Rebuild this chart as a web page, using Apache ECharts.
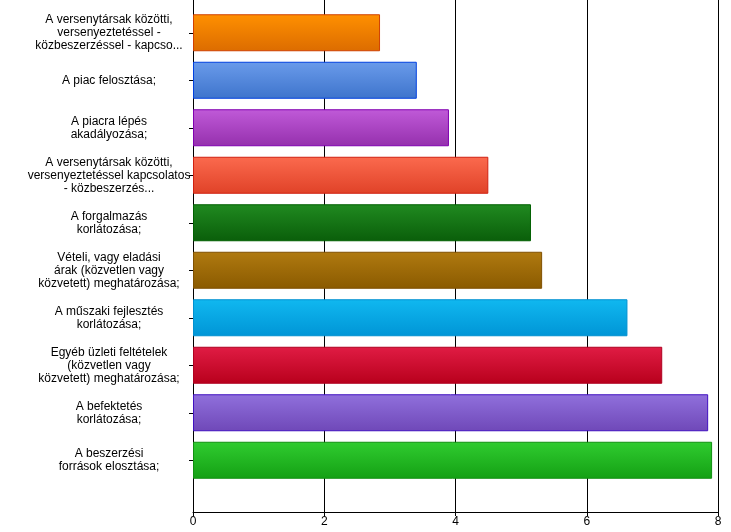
<!DOCTYPE html>
<html><head><meta charset="utf-8">
<script src="https://cdn.jsdelivr.net/npm/echarts@6/dist/echarts.min.js"></script>
<style>html,body{margin:0;padding:0;background:#fff}#c{width:731px;height:532px}</style>
</head><body><div id="c"></div>
<script>
var categories = [
    'A versenytársak közötti,\nversenyeztetéssel -\nközbeszerzéssel - kapcso...',
    'A piac felosztása;',
    'A piacra lépés\nakadályozása;',
    'A versenytársak közötti,\nversenyeztetéssel kapcsolatos\n- közbeszerzés...',
    'A forgalmazás\nkorlátozása;',
    'Vételi, vagy eladási\nárak (közvetlen vagy\nközvetett) meghatározása;',
    'A műszaki fejlesztés\nkorlátozása;',
    'Egyéb üzleti feltételek\n(közvetlen vagy\nközvetett) meghatározása;',
    'A befektetés\nkorlátozása;',
    'A beszerzési\nforrások elosztása;'
];
var values = [2.85, 3.41, 3.9, 4.5, 5.15, 5.32, 6.62, 7.15, 7.85, 7.91];
var topColors = ['#ff9000', '#6a9bea', '#c05ad8', '#fb6a4e', '#208a20', '#b07a10', '#10b8f0', '#e01c44', '#9070dc', '#30cc30'];
var bottomColors = ['#dc6c00', '#3e74cc', '#9530ad', '#e04228', '#0a5e0a', '#8a5a00', '#0095d6', '#b8001c', '#6f48b8', '#14a014'];
var borderColors = ['#d04000', '#0040e0', '#8000b0', '#d02010', '#006000', '#805000', '#0090d0', '#b00020', '#4010c0', '#109010'];

var chart = echarts.init(document.getElementById('c'));
chart.setOption({
    animation: false,
    grid: [
        { left: 193, right: 13, top: 9, bottom: 48 },
        { left: 193, right: 13, top: 0, bottom: 20 }
    ],
    xAxis: [{
        gridIndex: 0, type: 'value', min: 0, max: 8, interval: 2, show: false
    }, {
        gridIndex: 1, type: 'value', min: 0, max: 8, interval: 2,
        axisLine: { show: true, lineStyle: { color: '#000' } },
        axisTick: { show: true, length: 4, lineStyle: { color: '#000' } },
        axisLabel: { color: '#000', fontFamily: 'Liberation Sans', fontSize: 12, margin: 4 },
        splitLine: { show: true, lineStyle: { color: '#000', width: 1 } }
    }],
    yAxis: [{
        gridIndex: 0, type: 'category', inverse: true, data: categories,
        axisLine: { show: false },
        axisTick: { show: true, alignWithLabel: true, length: 4, lineStyle: { color: '#000' } },
        axisLabel: {
            color: '#000', fontFamily: 'Liberation Sans', fontSize: 12, lineHeight: 13,
            align: 'center', margin: 84, width: 170
        }
    }, {
        gridIndex: 1, type: 'value', min: 0, max: 1,
        axisLine: { show: true, lineStyle: { color: '#000' } },
        axisTick: { show: false }, axisLabel: { show: false }, splitLine: { show: false }
    }],
    series: [{
        type: 'bar', barWidth: 37, xAxisIndex: 0, yAxisIndex: 0,
        data: values.map(function (v, i) {
            return {
                value: v,
                itemStyle: {
                    color: new echarts.graphic.LinearGradient(0, 0, 0, 1, [
                        { offset: 0, color: topColors[i] },
                        { offset: 1, color: bottomColors[i] }
                    ]),
                    borderColor: borderColors[i], borderWidth: 1
                }
            };
        })
    }]
});
</script></body></html>
